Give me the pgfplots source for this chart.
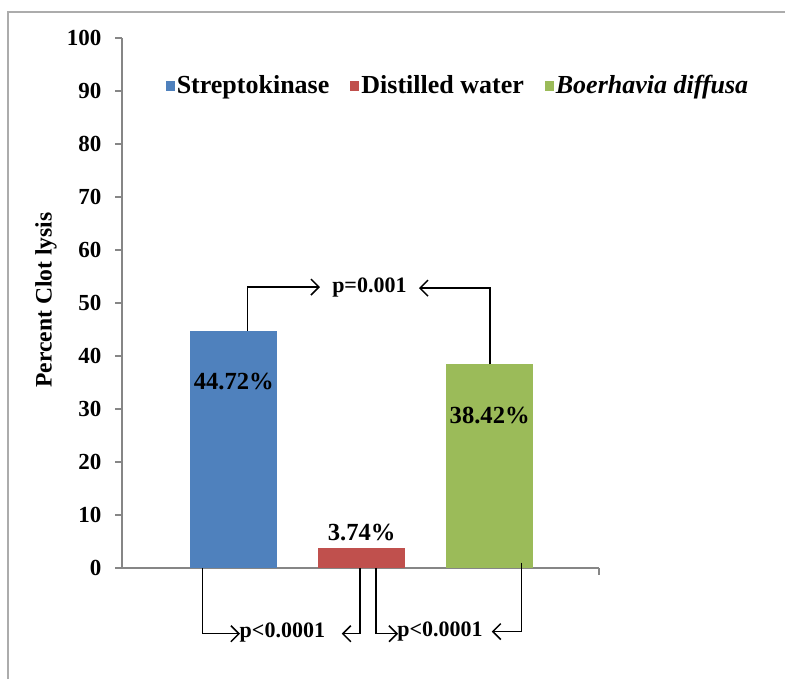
\documentclass[border=0pt]{standalone}
\usepackage{pgfplots}
\pgfplotsset{compat=1.18}
\usepackage{fontspec}
\setmainfont{Liberation Serif}
\usetikzlibrary{arrows.meta}
\definecolor{sbblue}{HTML}{4F81BD}
\definecolor{sbred}{HTML}{C0504D}
\definecolor{sbgreen}{HTML}{9BBB59}
\definecolor{axgray}{HTML}{868686}
\begin{document}
\fontsize{11pt}{13pt}\selectfont
\begin{tikzpicture}
\useasboundingbox (0,0) rectangle (392.5pt,339.5pt);
\draw[gray!65, line width=0.9pt] (4pt,0) -- (4pt,333.5pt) -- (392.5pt,333.5pt);
\begin{axis}[
  at={(61pt,55.5pt)}, anchor=south west,
  scale only axis, width=238.5pt, height=265pt,
  xmin=0.127, xmax=3.854, ymin=0, ymax=100,
  axis x line=bottom, axis y line=left,
  axis line style={-, draw=axgray, line width=0.8pt},
  ytick={0,10,...,100},
  xtick={3.854}, xticklabels={},
  tick align=outside, major tick length=3.5pt,
  tick style={axgray, line width=0.8pt},
  yticklabel style={font=\fontsize{11.5pt}{13pt}\selectfont\bfseries, xshift=-3pt},
  /pgf/number format/assume math mode=true,
  clip=false,
  legend style={draw=none, fill=none, at={(0.7065,0.909)}, anchor=center,
    font=\fontsize{13pt}{15pt}\selectfont\bfseries, legend columns=3,
    /tikz/every even column/.append style={column sep=8.5pt},
    /tikz/every odd column/.append style={column sep=-1pt},
    inner sep=0pt},
  legend image code/.code={\fill[#1] (0pt,-2.5pt) rectangle (4.5pt,2.5pt);},
]
\addplot[ybar, bar shift=0pt, bar width=0.682, fill=sbblue, draw=none] coordinates {(1,44.72)};
\addlegendentry{Streptokinase}
\addplot[ybar, bar shift=0pt, bar width=0.682, fill=sbred, draw=none] coordinates {(2,3.74)};
\addlegendentry{Distilled water}
\addplot[ybar, bar shift=0pt, bar width=0.682, fill=sbgreen, draw=none] coordinates {(3,38.42)};
\addlegendentry{\textit{Boerhavia diffusa}}

\node[font=\fontsize{12.3pt}{14pt}\selectfont\bfseries] at (axis cs:1,35.2) {44.72\%};
\node[font=\fontsize{12.3pt}{14pt}\selectfont\bfseries] at (axis cs:2,6.7) {3.74\%};
\node[font=\fontsize{12.3pt}{14pt}\selectfont\bfseries] at (axis cs:3,28.8) {38.42\%};

% p = 0.001 bracket
\draw[line width=0.75pt, -{Straight Barb[length=4pt,width=8pt]}] (axis cs:1.106,44.72) -- (axis cs:1.106,53.0) -- (axis cs:1.674,53.0);
\draw[line width=0.75pt, -{Straight Barb[length=4pt,width=8pt]}] (axis cs:3.002,38.42) -- (axis cs:3.002,52.8) -- (axis cs:2.447,52.8);
\node[font=\bfseries] at (axis cs:2.06,53.0) {p=0.001};

% bottom brackets
\draw[line width=0.75pt, -{Straight Barb[length=4pt,width=8pt]}] (axis cs:0.755,0) -- (axis cs:0.755,-12.4) -- (axis cs:1.049,-12.4);
\draw[line width=0.75pt, -{Straight Barb[length=4pt,width=8pt]}] (axis cs:1.987,0) -- (axis cs:1.987,-12.4) -- (axis cs:1.844,-12.4);
\node[font=\bfseries] at (axis cs:1.38,-12.2) {p<0.0001};
\draw[line width=0.75pt, -{Straight Barb[length=4pt,width=8pt]}] (axis cs:2.112,0) -- (axis cs:2.112,-12.4) -- (axis cs:2.284,-12.4);
\draw[line width=0.75pt, -{Straight Barb[length=4pt,width=8pt]}] (axis cs:3.25,1) -- (axis cs:3.25,-12.0) -- (axis cs:3.016,-12.0);
\node[font=\bfseries] at (axis cs:2.612,-12.0) {p<0.0001};
\end{axis}
\node[font=\fontsize{11.8pt}{14pt}\selectfont\bfseries, rotate=90] at (23pt,189.5pt) {Percent Clot lysis};
\end{tikzpicture}
\end{document}
